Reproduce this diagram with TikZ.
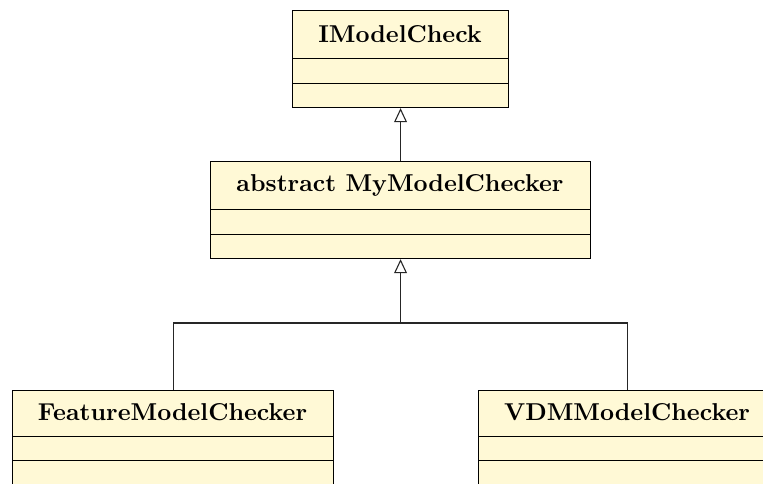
\documentclass[tikz,border=0pt]{standalone}
\usetikzlibrary{arrows.meta}
\definecolor{umlfill}{RGB}{255,249,214}
\tikzset{
  clsbox/.style={draw=black, fill=umlfill, line width=0.45pt, rectangle, anchor=north west, inner sep=0pt},
  clstitle/.style={font=\bfseries, inner sep=0pt},
  inh/.style={draw=black!85, line width=0.45pt, -{Triangle[open, fill=white, length=5.8pt, width=5.3pt]}},
  conn/.style={draw=black!85, line width=0.45pt}
}
\begin{document}
\begin{tikzpicture}[x=0.41pt,y=-0.41pt]
\useasboundingbox (0,0) rectangle (763,483);
\clip (0,0) rectangle (763,483);
% IModelCheck
\node[clsbox, minimum width=216*0.41pt, minimum height=97*0.41pt] (a) at (292,10) {};
\node[clstitle] (at) at (400,34) {IModelCheck};
\draw (292,58) -- (508,58);
\draw (292,83) -- (508,83);
% MyModelChecker
\node[clsbox, minimum width=380*0.41pt, minimum height=97*0.41pt] (b) at (210,161) {};
\node[clstitle] (bt) at (400,185) {abstract MyModelChecker};
\draw (210,209) -- (590,209);
\draw (210,234) -- (590,234);
% FeatureModelChecker
\node[clsbox, minimum width=321*0.41pt, minimum height=97*0.41pt] (f) at (12,390) {};
\node[clstitle] (ft) at (172.5,412) {FeatureModelChecker};
\draw (12,436) -- (333,436);
\draw (12,460) -- (333,460);
% VDMModelChecker
\node[clsbox, minimum width=298*0.41pt, minimum height=97*0.41pt] (v) at (478,390) {};
\node[clstitle] (vt) at (627,412) {VDMModelChecker};
\draw (478,436) -- (776,436);
\draw (478,460) -- (776,460);
% connectors
\coordinate (j) at (b.south |- 0,323);
\draw[inh] (b.north) -- (a.south);
\draw[conn] (f.north) |- (j);
\draw[conn] (v.north) |- (j);
\draw[inh] (j) -- (b.south);
\end{tikzpicture}
\end{document}
